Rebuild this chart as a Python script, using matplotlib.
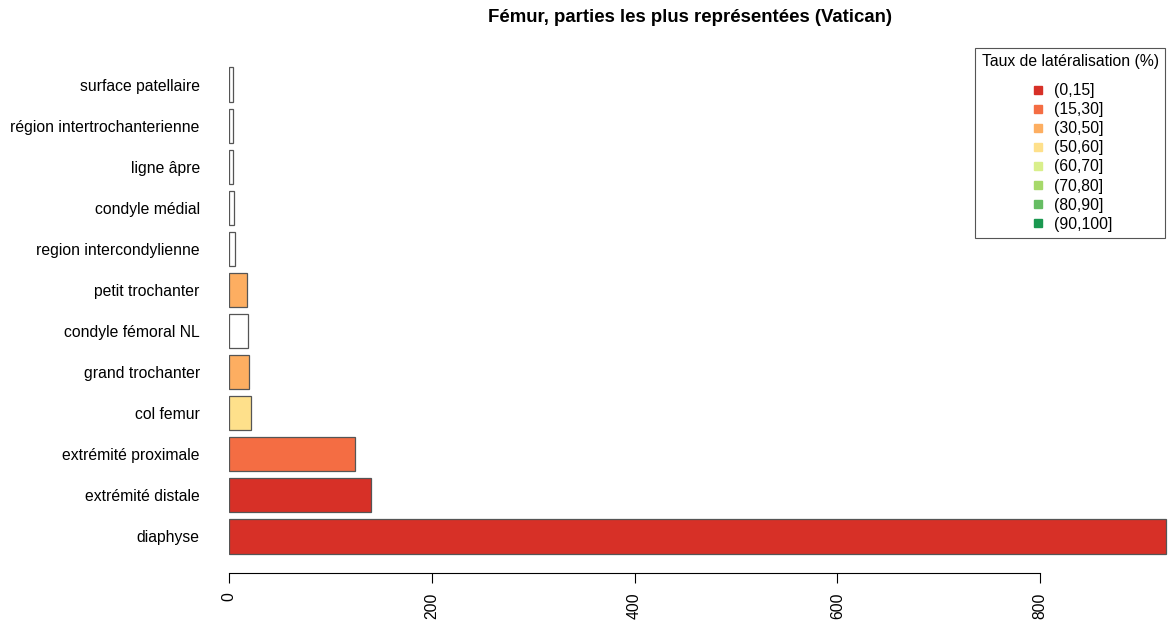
import numpy as np
import matplotlib as mpl
import matplotlib.pyplot as plt
from matplotlib.lines import Line2D

plt.rc('font', family=['Liberation Sans', 'DejaVu Sans'], size=11.3)

# data, bottom bar first
parts = ['diaphyse', 'extrémité distale', 'extrémité proximale', 'col femur',
         'grand trochanter', 'condyle fémoral NL', 'petit trochanter',
         'region intercondylienne', 'condyle médial', 'ligne âpre',
         'région intertrochanterienne', 'surface patellaire']
counts = [924, 140, 124, 22, 20, 19, 18, 6, 5, 4, 4, 4]
classes = ['(0,15]', '(0,15]', '(15,30]', '(50,60]', '(30,50]', None, '(30,50]',
           None, None, None, None, None]

legend_labels = ['(0,15]', '(15,30]', '(30,50]', '(50,60]', '(60,70]',
                 '(70,80]', '(80,90]', '(90,100]']
legend_colors = ['#d73027', '#f46d43', '#fdae61', '#fee08b', '#d9ef8b',
                 '#a6d96a', '#66bd63', '#1a9850']
col_of = dict(zip(legend_labels, legend_colors))
bar_colors = [col_of[c] if c else 'white' for c in classes]

W, H = 1168, 623
fig = plt.figure(figsize=(W/100, H/100), dpi=100)
ax = fig.add_axes([229/W, 1-573/H, (W-229)/W, (573-48)/H])

ypos = 0.7 + 1.2*np.arange(len(parts))
ax.barh(ypos, counts, height=1.0, color=bar_colors, edgecolor='#555555', linewidth=0.9)
ax.set_ylim(-0.368, 14.968)
ax.set_xlim(0, 926)

ax.set_yticks(ypos)
ax.set_yticklabels(parts)
ax.tick_params(axis='y', length=0, pad=21, labelsize=11.3)
ax.set_xticks([0, 200, 400, 600, 800])
ax.tick_params(axis='x', length=7, width=0.8, labelrotation=90, labelsize=11.3, pad=7)

for s in ['top', 'right', 'left']:
    ax.spines[s].set_visible(False)
ax.spines['bottom'].set_bounds(0, 800)
ax.spines['bottom'].set_linewidth(0.8)

fig.text(690/W, 1-17/H, 'Fémur, parties les plus représentées (Vatican)',
         ha='center', va='center', fontweight='bold', fontsize=13.4)

handles = [Line2D([], [], marker='s', linestyle='none', markersize=5.5,
                  markerfacecolor=c, markeredgecolor=c) for c in legend_colors]
leg = fig.legend(handles, legend_labels, title='Taux de latéralisation (%)',
                 loc='upper right', bbox_to_anchor=(1165/W, 1-48/H),
                 fancybox=False, edgecolor='#555555', framealpha=1,
                 fontsize=11.3, title_fontsize=11.3, labelspacing=0.26,
                 handletextpad=0.4, handlelength=1.2, borderpad=0.4,
                 borderaxespad=0)
leg._legend_box.sep = 10  # a bit more room under the title
leg.get_frame().set_linewidth(0.8)

plt.savefig('out.png', dpi=100)
